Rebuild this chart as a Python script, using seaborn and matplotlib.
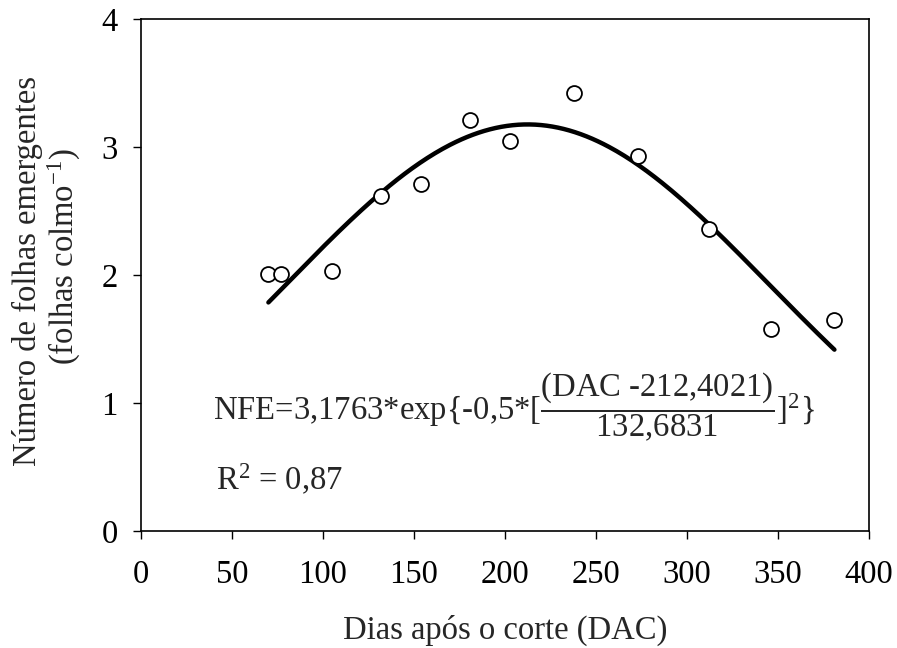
import numpy as np
import pandas as pd
import matplotlib
matplotlib.use("Agg")
import matplotlib.pyplot as plt
import seaborn as sns

# Observed data
dac = [70, 77, 105, 132, 154, 181, 203, 238, 273, 312, 346, 381]
nfe = [2.01, 2.01, 2.03, 2.62, 2.71, 3.21, 3.05, 3.42, 2.93, 2.36, 1.58, 1.65]

# Fitted model parameters (from the printed equation)
a_par = 3.1763
x0_par = 212.4021
b_par = 132.6831

x_ticks = [0, 50, 100, 150, 200, 250, 300, 350, 400]
y_ticks = [0, 1, 2, 3, 4]

sns.set_theme(style="white")
plt.rcParams["font.family"] = ["Liberation Serif", "DejaVu Serif"]
plt.rcParams["mathtext.fontset"] = "custom"
plt.rcParams["mathtext.rm"] = "Liberation Serif"
plt.rcParams["mathtext.it"] = "Liberation Serif:italic"

FS = 23.5
W, H = 897, 648

fig = plt.figure(figsize=(W/100, H/100), dpi=100)
ax = fig.add_axes([141/W, 1-531/H, (869-141)/W, (531-19)/H])

df = pd.DataFrame({"DAC": dac, "NFE": nfe})
xf = np.linspace(min(dac), max(dac), 300)
fit = pd.DataFrame({"DAC": xf, "NFE": a_par*np.exp(-0.5*((xf-x0_par)/b_par)**2)})

sns.lineplot(data=fit, x="DAC", y="NFE", ax=ax, color="black", lw=3.2, zorder=2)
sns.scatterplot(data=df, x="DAC", y="NFE", ax=ax, s=115, facecolor="white",
                edgecolor="black", linewidth=1.3, zorder=3)

ax.set_xlim(0, 400)
ax.set_ylim(0, 4)
ax.set_xticks(x_ticks)
ax.set_yticks(y_ticks)
ax.tick_params(axis="both", direction="out", length=5.8, width=1, colors="black",
               labelsize=FS, bottom=True, left=True)
ax.tick_params(axis="x", pad=14.5)
ax.tick_params(axis="y", pad=11)
for s in ax.spines.values():
    s.set_color("black")
    s.set_linewidth(1.2)

ax.set_xlabel("Dias após o corte (DAC)", fontsize=FS, labelpad=18)
ax.set_ylabel("")

# y-axis label (two lines), positioned by baseline
fig.text(36/W, 1-271/H, "Número de folhas emergentes", rotation=90, rotation_mode="anchor",
         ha="center", va="baseline", fontsize=FS)
fig.text(74/W, 1-256/H, "(folhas colmo$^{-1}$)", rotation=90, rotation_mode="anchor",
         ha="center", va="baseline", fontsize=FS)

ax.text(39.5, (531-420)/128, r"NFE=3,1763*exp{-0,5*[$\dfrac{\text{(DAC -212,4021)}}{\text{132,6831}}$]$^{2}$}",
        fontsize=FS, va="baseline", ha="left")
ax.text(41, (531-490)/128, r"R$^{2}$ = 0,87", fontsize=FS, va="baseline", ha="left")

fig.savefig("out.png", dpi=100)
